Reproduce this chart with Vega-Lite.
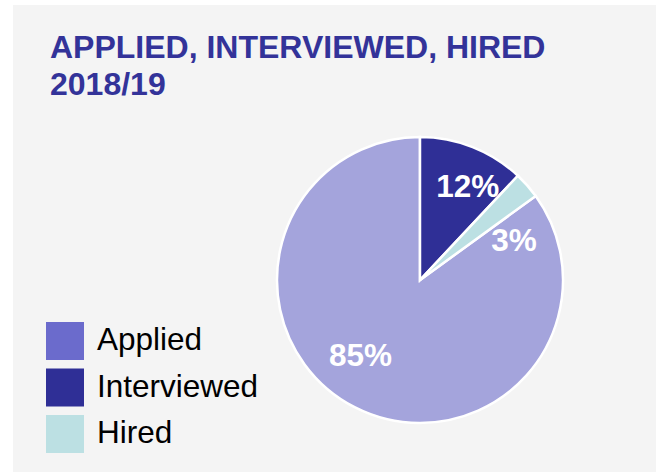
{
  "$schema": "https://vega.github.io/schema/vega-lite/v6.json",
  "width": 656,
  "height": 472,
  "autosize": {"type": "fit", "contains": "padding"},
  "padding": {"left": 13, "top": 5, "right": 0, "bottom": 0},
  "background": "#ffffff",
  "view": {"stroke": null, "fill": "#f4f4f4"},
  "config": {
    "view": {"stroke": null, "fill": "#f4f4f4"},
    "font": "Liberation Sans"
  },
  "title": {
    "text": ["APPLIED, INTERVIEWED, HIRED", "2018/19"],
    "anchor": "start",
    "frame": "group",
    "font": "Liberation Sans",
    "fontSize": 32,
    "fontWeight": "bold",
    "color": "#333399",
    "lineHeight": 37,
    "offset": -97,
    "dx": 37
  },
  "data": {
    "values": [
      {"category": "Applied", "share": 0.85},
      {"category": "Interviewed", "share": 0.12},
      {"category": "Hired", "share": 0.03}
    ]
  },
  "encoding": {
    "theta": {"field": "share", "type": "quantitative", "stack": true},
    "order": {"field": "category", "sort": "descending"}
  },
  "layer": [
    {
      "mark": {"type": "arc", "outerRadius": 143, "stroke": "#ffffff", "strokeWidth": 2.5, "x": 407, "y": 275},
      "encoding": {
        "color": {
          "field": "category",
          "type": "nominal",
          "scale": {"domain": ["Applied", "Interviewed", "Hired"], "range": ["#6b6bcc", "#2f2f96", "#bce0e3"]},
          "legend": {
            "orient": "none",
            "legendX": 33,
            "legendY": 317,
            "title": null,
            "symbolType": "square",
            "symbolSize": 1444,
            "symbolStrokeWidth": 0,
            "symbolOpacity": 1,
            "labelFont": "Liberation Sans",
            "labelFontSize": 31.5,
            "labelColor": "#000000",
            "labelOffset": 13,
            "labelLimit": 400,
            "rowPadding": 8.5,
            "padding": 0
          }
        },
        "fillOpacity": {"condition": {"test": "datum.category === 'Applied'", "value": 0.58}, "value": 1}
      }
    },
    {
      "mark": {"type": "text", "radius": 100, "x": 407, "y": 275, "dx": 11, "dy": 1, "font": "Liberation Sans", "fontSize": 31.5, "fontWeight": "bold", "fill": "#ffffff", "baseline": "middle", "align": "center"},
      "encoding": {
        "text": {"condition": {"test": "datum.category === 'Interviewed'", "field": "share", "format": ".0%"}, "value": ""}
      }
    },
    {
      "mark": {"type": "text", "radius": 100, "x": 407, "y": 275, "dx": 19, "dy": 28, "font": "Liberation Sans", "fontSize": 31.5, "fontWeight": "bold", "fill": "#ffffff", "baseline": "middle", "align": "center"},
      "encoding": {
        "text": {"condition": {"test": "datum.category === 'Hired'", "field": "share", "format": ".0%"}, "value": ""}
      }
    },
    {
      "mark": {"type": "text", "radius": 100, "x": 407, "y": 275, "dx": -14, "dy": -12, "font": "Liberation Sans", "fontSize": 31.5, "fontWeight": "bold", "fill": "#ffffff", "baseline": "middle", "align": "center"},
      "encoding": {
        "text": {"condition": {"test": "datum.category === 'Applied'", "field": "share", "format": ".0%"}, "value": ""}
      }
    }
  ]
}
